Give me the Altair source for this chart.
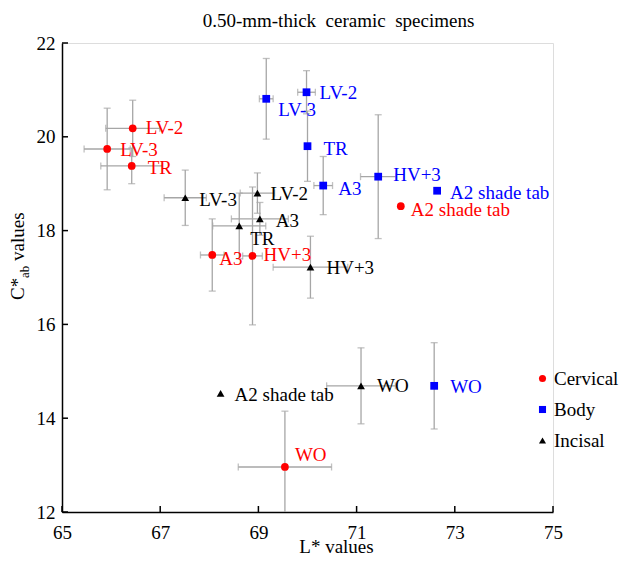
import altair as alt
import pandas as pd

# ---------------- data ----------------
groups = ["Cervical", "Body", "Incisal"]
specimens = ["LV-2", "LV-3", "TR", "A3", "HV+3", "A2 shade tab", "WO"]

cervical_L = [66.44, 65.92, 66.42, 68.06, 68.88, 71.90, 69.54]
cervical_C = [20.18, 19.74, 19.38, 17.48, 17.46, 18.52, 12.96]
cervical_L_sd = [0.55, 0.47, 0.63, 0.24, 0.20, 0.0, 0.95]
cervical_C_sd = [0.60, 0.87, 0.38, 0.77, 1.47, 0.0, 1.19]

body_L = [69.98, 69.16, 70.00, 70.32, 71.44, 72.64, 72.58]
body_C = [20.95, 20.81, 19.80, 18.96, 19.15, 18.85, 14.69]
body_L_sd = [0.18, 0.14, 0.05, 0.19, 0.36, 0.0, 0.0]
body_C_sd = [0.46, 0.86, 0.75, 0.62, 1.32, 0.0, 0.92]

incisal_L = [68.98, 67.51, 68.61, 69.03, 70.06, 68.23, 71.09]
incisal_C = [18.80, 18.70, 18.10, 18.25, 17.22, 14.53, 14.69]
incisal_L_sd = [0.35, 0.43, 0.54, 0.58, 0.76, 0.0, 0.70]
incisal_C_sd = [0.43, 0.59, 0.70, 0.35, 0.66, 0.0, 0.81]

x_ticks = [65, 67, 69, 71, 73, 75]
y_ticks = [12, 14, 16, 18, 20, 22]

# ---------------- styles ----------------
FONT = "Liberation Serif"
group_colors = {"Cervical": "#FF0000", "Body": "#0000FF", "Incisal": "#000000"}
group_shapes = {"Cervical": "circle", "Body": "square", "Incisal": "triangle-up"}
ERR = "#A6A6A6"

# label offsets in pixels (dx, dy) per group/specimen
label_offsets = {
    "Cervical": [(13, 0), (13, 1), (16, 2), (7, 4), (11, -1), (10, 4), (10, -12)],
    "Body": [(13, 1), (12, 11), (16, 3), (15, 3), (15, -2), (13, 2), (16, 1)],
    "Incisal": [(13, 1), (14, 2), (11, 13), (16, 2), (16, 1), (14, 2), (16, 0)],
}

series = {
    "Cervical": (cervical_L, cervical_C, cervical_L_sd, cervical_C_sd),
    "Body": (body_L, body_C, body_L_sd, body_C_sd),
    "Incisal": (incisal_L, incisal_C, incisal_L_sd, incisal_C_sd),
}

rows = []
for g in groups:
    Ls, Cs, Lsd, Csd = series[g]
    for i, s in enumerate(specimens):
        rows.append(dict(group=g, label=s, idx=i, L=Ls[i], C=Cs[i],
                         Lerr=Lsd[i], Cerr=Csd[i],
                         Llo=Ls[i] - Lsd[i], Lhi=Ls[i] + Lsd[i],
                         Clo=Cs[i] - Csd[i], Chi=Cs[i] + Csd[i]))
df = pd.DataFrame(rows)

W, H = 491, 469

xscale = alt.Scale(domain=[65, 75], nice=False, zero=False)
yscale = alt.Scale(domain=[12, 22], nice=False, zero=False)
xaxis = alt.Axis(values=x_ticks, format="d", ticks=False, grid=False,
                 domainColor="black", domainWidth=1.5,
                 labelFont=FONT, labelFontSize=19, labelColor="black",
                 labelPadding=11, labelFlush=False,
                 title="L* values", titleFont=FONT, titleFontSize=19,
                 titleFontWeight="normal", titleColor="black",
                 titleX=274, titleY=34, titleBaseline="middle", titleAlign="center")
yaxis = alt.Axis(values=y_ticks, format="d", ticks=False, grid=False,
                 domainColor="black", domainWidth=1.5,
                 labelFont=FONT, labelFontSize=19, labelColor="black",
                 labelPadding=7, labelFlush=False, title="")


def X(f):
    return alt.X(f, type="quantitative", scale=xscale, axis=xaxis)


def Y(f):
    return alt.Y(f, type="quantitative", scale=yscale, axis=yaxis)


base = alt.Chart(df)

vbars = base.transform_filter("datum.Cerr > 0").mark_rule(
    color=ERR, strokeWidth=1.3, clip=True).encode(x=X("L"), y=Y("Clo"), y2="Chi")
hbars = base.transform_filter("datum.Lerr > 0").mark_rule(
    color=ERR, strokeWidth=1.3, clip=True).encode(y=Y("C"), x=X("Llo"), x2="Lhi")
cap_lo = base.transform_filter("datum.Cerr > 0").mark_tick(
    orient="horizontal", color=ERR, size=7, thickness=1.3, clip=True).encode(x=X("L"), y=Y("Clo"))
cap_hi = base.transform_filter("datum.Cerr > 0").mark_tick(
    orient="horizontal", color=ERR, size=7, thickness=1.3, clip=True).encode(x=X("L"), y=Y("Chi"))
cap_l = base.transform_filter("datum.Lerr > 0").mark_tick(
    orient="vertical", color=ERR, size=7, thickness=1.3, clip=True).encode(x=X("Llo"), y=Y("C"))
cap_r = base.transform_filter("datum.Lerr > 0").mark_tick(
    orient="vertical", color=ERR, size=7, thickness=1.3, clip=True).encode(x=X("Lhi"), y=Y("C"))

legend = alt.Legend(title=None, orient="none", legendX=471, legendY=326,
                    labelFont=FONT, labelFontSize=19, labelColor="black",
                    symbolSize=50, rowPadding=11, labelOffset=2, padding=0,
                    symbolStrokeWidth=0, labelLimit=200)

points = base.mark_point(filled=True, opacity=1, size=60).encode(
    x=X("L"), y=Y("C"),
    color=alt.Color("group:N", scale=alt.Scale(domain=groups, range=[group_colors[g] for g in groups]),
                    legend=legend),
    shape=alt.Shape("group:N", scale=alt.Scale(domain=groups, range=[group_shapes[g] for g in groups]),
                    legend=legend),
)

label_layers = []
for g in groups:
    for i, s in enumerate(specimens):
        dx, dy = label_offsets[g][i]
        label_layers.append(
            base.transform_filter(f"datum.group == '{g}' && datum.idx == {i}")
            .mark_text(align="left", baseline="middle", dx=dx, dy=dy,
                       font=FONT, fontSize=19, color=group_colors[g])
            .encode(x=X("L"), y=Y("C"), text="label:N")
        )

# inward axis ticks
xt = alt.Chart(pd.DataFrame({"v": x_ticks})).mark_rule(color="black", strokeWidth=1.5).encode(
    x=X("v"), y=alt.value(H), y2=alt.value(H - 6))
yt = alt.Chart(pd.DataFrame({"v": y_ticks})).mark_rule(color="black", strokeWidth=1.5).encode(
    y=Y("v"), x=alt.value(0), x2=alt.value(6))

# y-axis title with subscript
yt1 = alt.Chart(pd.DataFrame({"t": ["C*"]})).mark_text(
    angle=270, align="left", baseline="middle", font=FONT, fontSize=19, color="black").encode(
    text="t:N", x=alt.value(-44), y=alt.value(257))
yt2 = alt.Chart(pd.DataFrame({"t": ["ab"]})).mark_text(
    angle=270, align="left", baseline="middle", font=FONT, fontSize=13, color="black").encode(
    text="t:N", x=alt.value(-37), y=alt.value(235))
yt3 = alt.Chart(pd.DataFrame({"t": ["values"]})).mark_text(
    angle=270, align="left", baseline="middle", font=FONT, fontSize=19, color="black").encode(
    text="t:N", x=alt.value(-44), y=alt.value(218))

chart = alt.layer(
    vbars, hbars, cap_lo, cap_hi, cap_l, cap_r, points, *label_layers, xt, yt, yt1, yt2, yt3
).properties(
    width=W, height=H,
    autosize=alt.AutoSizeParams(type="none"),
    padding={"left": 54, "top": 35, "right": 67, "bottom": 43},
    title=alt.TitleParams(text="0.50-mm-thick\u00a0 ceramic\u00a0 specimens", font=FONT, fontSize=19,
                          fontWeight="normal", color="black", anchor="middle", dx=31, offset=3),
).configure_view(strokeWidth=0).configure(background="white").configure_axis(
    labelFont=FONT, titleFont=FONT).configure_legend(labelFont=FONT)

chart.save("out.html", embed_options={"renderer": "svg", "actions": False})
